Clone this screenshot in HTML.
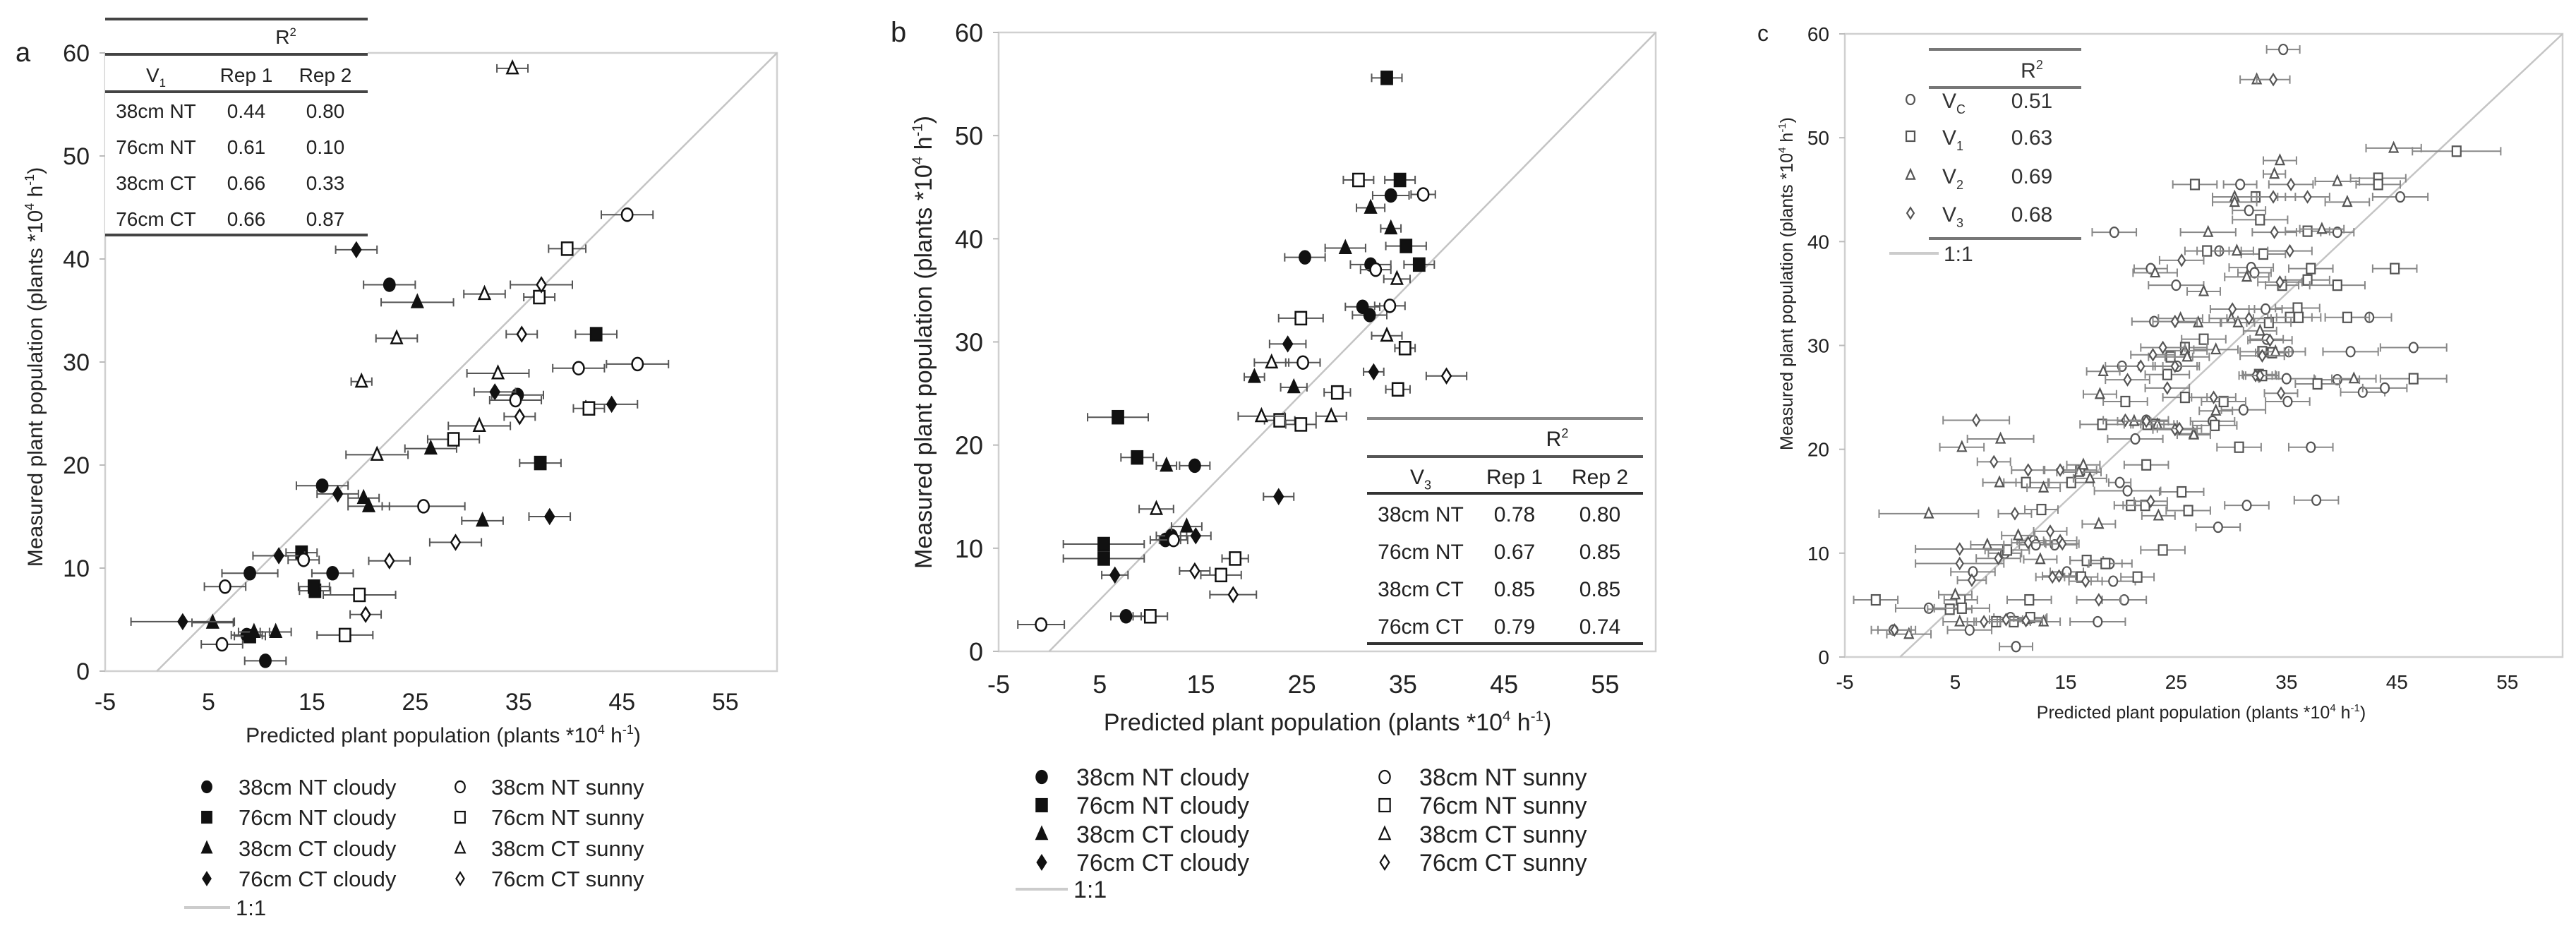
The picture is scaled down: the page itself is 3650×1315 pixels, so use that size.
<!DOCTYPE html>
<html><head><meta charset="utf-8"><style>
html,body{margin:0;padding:0;background:#fff}
svg{display:block;font-family:"Liberation Sans",Arial,sans-serif}
</style></head><body>
<svg id="fig" width="3650" height="1315" viewBox="0 0 3650 1315" xmlns="http://www.w3.org/2000/svg"></svg>
<script>
// ---- data: each point [predicted, measured, error] ----
const xTicks=[-5,5,15,25,35,45,55];
const yTicks=[0,10,20,30,40,50,60];
// Panel a (V1)
const a_nt38_cloudy=[[22.5,37.5,2.5],[16,18,2.5],[9,9.5,2.7],[17,9.5,2],[8.7,3.5,1.5],[10.5,1,2],[34.9,26.8,2.5]];
const a_nt76_cloudy=[[42.5,32.7,2],[37.1,20.2,2],[14,11.5,1.5],[15.3,7.8,1.5],[15.2,8.2,1.5],[9,3.4,1.5]];
const a_ct38_cloudy=[[25.2,35.8,3.5],[26.5,21.6,2.5],[20,16.8,1.5],[20.5,16,2],[31.5,14.6,2],[5.4,4.7,2],[9.4,3.8,1.5],[11.5,3.8,1.5]];
const a_ct76_cloudy=[[19.3,40.9,2],[32.7,27.1,2],[44,25.9,2.5],[17.5,17.2,2],[38,15,2],[11.8,11.2,2.5],[2.5,4.8,5]];
const a_nt38_sunny=[[45.5,44.3,2.5],[40.8,29.4,2.5],[46.5,29.8,3],[34.7,26.3,2.5],[25.8,16,4],[6.6,8.2,2],[6.3,2.6,2],[14.2,10.8,1.5]];
const a_nt76_sunny=[[39.7,41,1.8],[37,36.3,1.5],[41.8,25.5,1.5],[28.7,22.5,2.5],[19.6,7.4,3.5],[18.2,3.5,2.7]];
const a_ct38_sunny=[[34.4,58.5,1.5],[31.7,36.6,2],[23.2,32.3,2],[33,28.9,3],[19.8,28.1,1],[31.2,23.8,3],[21.3,21,3]];
const a_ct76_sunny=[[37.2,37.5,3],[35.3,32.7,1.5],[35.1,24.7,1.5],[28.9,12.5,2.5],[22.5,10.7,2],[20.2,5.5,1.5]];
// Panel b (V3)
const b_nt38_cloudy=[[33.8,44.2,1.8],[25.3,38.2,2],[31.8,37.5,2],[31,33.4,1.7],[31.7,32.6,1.7],[14.4,18,1.5],[11.5,10.8,1.5],[12.1,11.2,1.5],[7.6,3.4,1.5]];
const b_nt76_cloudy=[[33.4,55.6,1.5],[34.7,45.7,1.5],[35.3,39.3,2],[36.6,37.5,1.5],[6.8,22.7,3],[8.7,18.8,1.6],[5.4,10.4,4],[5.4,9,4]];
const b_ct38_cloudy=[[31.8,43,1.4],[33.8,41,1],[29.3,39.1,2],[20.3,26.6,1],[24.2,25.6,1.3],[11.6,18,1],[13.6,12.1,1.5]];
const b_ct76_cloudy=[[23.6,29.8,1.8],[32.1,27.1,1],[22.7,15,1.5],[14.5,11.2,1.5],[6.5,7.4,1.3]];
const b_nt38_sunny=[[37,44.3,1.2],[32.3,37,1.5],[33.7,33.5,1.5],[25.1,28,1.7],[12.3,10.8,1.4],[-0.8,2.6,2.3]];
const b_nt76_sunny=[[30.6,45.7,1.5],[24.9,32.3,2.2],[35.2,29.4,1],[28.5,25.1,1.3],[34.5,25.4,1.2],[22.8,22.4,1.5],[24.9,22,1.5],[18.4,9,1.3],[17,7.4,2],[10,3.4,1.7]];
const b_ct38_sunny=[[34.4,36.1,1.3],[33.4,30.6,1.5],[22,28,1.7],[21,22.8,2.3],[27.9,22.8,1.5],[10.6,13.8,1.7]];
const b_ct76_sunny=[[39.3,26.7,2],[14.4,7.8,1.5],[18.2,5.5,2.3]];
// Panel c (by growth stage)
const c_vc=[[34.7,58.5,1.5],[45.3,44.3,2.5],[19.4,40.9,2],[39.6,40.9,1.5],[22.7,37.4,1.5],[25,35.8,2.5],[42.5,32.7,2],[23,32.3,2],[33.1,33.5,1.5],[46.5,29.8,3],[40.8,29.4,2.5],[35.2,29.4,1.5],[20.1,28,1.5],[39.6,26.7,2],[35,26.8,2.5],[41.9,25.5,2],[43.9,25.9,2],[35.1,24.6,2],[31.1,23.8,2],[21.3,21,2.5],[37.2,20.2,2],[20.6,16,3],[31.4,14.6,2],[37.7,15.1,2],[28.8,12.5,2],[19.9,16.8,1],[14,10.8,2],[19,9,2],[16.9,9.3,1.5],[6.6,8.2,2],[19.3,7.3,2],[15.1,8.2,1.5],[20.3,5.5,2],[2.6,4.7,3],[6.3,2.6,2],[17.9,3.4,2.5],[10.5,1,1.5],[11.7,3.7,1.5],[10,3.8,1.5],[-0.6,2.6,2],[28.3,22.7,2],[12.1,11.2,1.5],[9.5,10,1.5],[22.3,22.8,2],[25.1,28,2],[31.8,37.5,2],[28.9,39.1,2],[30.8,45.5,1.5],[31.6,43,1.5],[32.1,37,1.5],[33.2,30.6,1.5],[12.3,10.8,1.5]];
const c_v1=[[50.4,48.7,4],[43.3,46.1,2.5],[43.3,45.5,2],[26.7,45.5,2],[32.2,44.3,2],[32.6,42.1,2.5],[36.9,41,2],[27.8,39.1,2],[32.9,38.8,2],[44.8,37.4,2],[37.2,37.4,2],[36.9,36.3,2],[39.6,35.8,2.5],[34.6,35.8,1.5],[36,33.6,2],[35.3,32.7,2],[36.1,32.7,2],[40.5,32.7,2],[33.4,32.2,2],[27.5,30.6,2],[25.8,29.8,2],[24.5,28.9,2],[32.8,29.4,2],[33.7,29.3,1.5],[24.2,27.2,2],[32.5,27.2,1.5],[32.8,27.1,1.5],[46.5,26.8,3],[37.8,26.3,2],[25.8,25,2],[29.3,24.6,2],[20.4,24.6,2],[28.5,22.3,2],[18.3,22.4,2],[23.1,22.4,2],[30.7,20.2,2],[22.3,18.5,2],[16.3,18,1.5],[11.4,16.8,2],[15.5,16.8,2],[25.5,15.9,2],[20.9,14.6,1.5],[22.2,14.6,2],[26.1,14.1,2],[12.8,14.2,1.5],[23.8,10.3,2],[9.7,10.3,2],[16.9,9.3,1.5],[18.6,9,1.5],[16.4,7.7,1.5],[21.5,7.7,1.5],[-2.2,5.5,2],[11.7,5.5,2],[5.5,5.5,1.5],[4.5,4.6,2],[5.6,4.7,2.5],[8.7,3.4,2],[10.3,3.4,1.5],[11.8,3.8,1.5],[22.4,22.4,1.5]];
const c_v2=[[32.3,55.6,1.5],[44.7,49,2.5],[34.4,47.8,1.5],[33.9,46.5,1],[39.6,45.8,2],[30.3,44.3,2],[30.3,43.8,2],[40.5,43.8,2],[38.2,41.2,2],[27.9,40.9,2.5],[30.5,39.1,1.5],[23.1,37,2],[27.5,35.2,1.5],[31.4,36.6,2],[25.4,32.6,2],[30,32.6,2],[30.6,32.2,1.5],[27,32.2,2],[32.6,31.4,1.5],[28.6,29.6,2],[25.8,29.5,2],[26,28.9,2],[34,29.4,1.5],[41.1,26.8,2],[18.4,27.5,1.5],[18.1,25.3,1.5],[28.6,23.7,1.5],[21.2,22.7,1.5],[26.6,21.5,1.5],[9.1,21,3],[5.6,20.2,2],[16.6,18.5,1.5],[9,16.8,1.5],[13,16.3,1.5],[2.6,13.8,4.5],[23.4,13.6,1.5],[18,12.8,1.5],[10.7,11.7,1.5],[7.9,10.8,1.5],[12.7,9.4,1.5],[5,6,1.5],[5.4,3.4,1.5],[13,3.4,1.5],[0.8,2.2,2],[16.2,17.8,2],[17.2,17.2,1.5],[26.6,21.4,1.5],[23.3,22.4,1.5]];
const c_v3=[[33.8,55.6,1.5],[35.4,45.5,2],[33.8,44.3,2],[36.9,44.3,2],[33.9,40.9,2],[35.3,39.1,2],[25.5,38.2,2],[34.4,36.1,2],[30.1,33.5,2],[31.6,32.6,2],[24.9,32.3,2],[33.5,30.5,2],[23.8,29.8,2],[24.9,28,2],[21.8,28,2],[32.8,29,2],[22.9,29.1,2],[20.6,26.7,2],[24.2,25.9,2],[28.4,25,2],[34.5,25.4,1.5],[24.9,21.9,2],[25.3,22,2],[32.2,27.1,1.5],[32.6,27.1,1.5],[6.9,22.8,3],[8.5,18.8,1.5],[11.6,18,1.5],[14.5,18,1.5],[22.7,15,1.5],[10.4,13.8,1.5],[13.6,12.1,1.5],[14.5,11.2,1.5],[11.6,11,1.5],[5.4,10.4,4],[5.4,9,4],[6.5,7.4,1.3],[14.4,7.8,1.5],[18,5.5,2],[16.8,7.3,1.5],[13.8,7.7,1.5],[7.6,3.4,1.5],[9.6,3.6,1.5],[11.4,3.5,1.5],[-0.5,2.6,1.5],[14.7,10.9,1.5],[20.4,22.8,2],[22.3,22.7,2],[8.9,9.5,2]];
const tableA=[["38cm NT","0.44","0.80"],["76cm NT","0.61","0.10"],["38cm CT","0.66","0.33"],["76cm CT","0.66","0.87"]];
const tableB=[["38cm NT","0.78","0.80"],["76cm NT","0.67","0.85"],["38cm CT","0.85","0.85"],["76cm CT","0.79","0.74"]];
const tableC=[["C","0.51"],["1","0.63"],["2","0.69"],["3","0.68"]];
const legendLabels=["38cm NT cloudy","76cm NT cloudy","38cm CT cloudy","76cm CT cloudy","38cm NT sunny","76cm NT sunny","38cm CT sunny","76cm CT sunny"];

const NS="http://www.w3.org/2000/svg";
const svg=document.getElementById('fig');
function mk(tag,attrs,parent,text){const e=document.createElementNS(NS,tag);for(const k in attrs)e.setAttribute(k,attrs[k]);if(text!==undefined)e.textContent=text;(parent||svg).appendChild(e);return e;}

function marker(g,shape,cx,cy,r,filled,stroke,sw){
  const fill=filled?stroke:'#fff';let e;
  if(shape==='circle')e=mk('ellipse',{cx:cx,cy:cy,rx:r*0.85,ry:r,fill:fill,stroke:stroke,'stroke-width':sw},g);
  else if(shape==='square')e=mk('rect',{x:cx-r*0.85,y:cy-r,width:r*1.7,height:r*2,fill:fill,stroke:stroke,'stroke-width':sw},g);
  else if(shape==='triangle')e=mk('polygon',{points:`${cx},${cy-r*1.1} ${cx+r*0.85},${cy+r*0.8} ${cx-r*0.85},${cy+r*0.8}`,fill:fill,stroke:stroke,'stroke-width':sw},g);
  else e=mk('polygon',{points:`${cx},${cy-r*1.1} ${cx+r*0.7},${cy} ${cx},${cy+r*1.1} ${cx-r*0.7},${cy}`,fill:fill,stroke:stroke,'stroke-width':sw},g);
  return e;
}

function panel(P){
  const g=mk('g',{});
  
  
  const X=v=>P.L+(v+5)/65*(P.R-P.L);
  const Y=v=>P.B-v/60*(P.B-P.T);
  const fr=mk('rect',{x:P.L,y:P.T,width:P.R-P.L,height:P.B-P.T,fill:'none',stroke:'#d0d0d0','stroke-width':2.5},g);
  
  const dl=mk('line',{x1:X(0),y1:Y(0),x2:X(60),y2:Y(60),stroke:'#c4c4c4','stroke-width':2.5},g);
  
  xTicks.forEach(t=>{const e=mk('text',{x:X(t),y:P.xtY,'font-size':P.tf,'text-anchor':'middle',fill:'#222'},g,String(t));
    });
  yTicks.forEach(t=>{mk('line',{x1:P.L-8,x2:P.L,y1:Y(t),y2:Y(t),stroke:'#bbb','stroke-width':2},g);
    const e=mk('text',{x:P.L-22,y:Y(t)+P.tf*0.36,'font-size':P.tf,'text-anchor':'end',fill:'#222'},g,String(t));
    });
  const pl=mk('text',{x:P.labX,y:P.T+P.tf*0.36,'font-size':P.tf+4,fill:'#222'},g,P.id);
  
  const xt=mk('text',{x:P.xtitleX,y:P.xtitleY,'font-size':P.af,'text-anchor':'middle',fill:'#222'},g);
  xt.innerHTML='Predicted plant population (plants *10<tspan font-size="'+(P.af*0.6)+'" dy="-'+(P.af*0.4)+'">4</tspan><tspan dy="'+(P.af*0.4)+'"> h</tspan><tspan font-size="'+(P.af*0.6)+'" dy="-'+(P.af*0.4)+'">-1</tspan><tspan dy="'+(P.af*0.4)+'">)</tspan>';
  
  const yt=mk('text',{x:0,y:0,'font-size':P.af,'text-anchor':'middle',fill:'#222',transform:`translate(${P.ytitleX},${P.ytitleY}) rotate(-90)`},g);
  yt.innerHTML='Measured plant population (plants *10<tspan font-size="'+(P.af*0.6)+'" dy="-'+(P.af*0.4)+'">4</tspan><tspan dy="'+(P.af*0.4)+'"> h</tspan><tspan font-size="'+(P.af*0.6)+'" dy="-'+(P.af*0.4)+'">-1</tspan><tspan dy="'+(P.af*0.4)+'">)</tspan>';
  
  P.series.forEach(s=>{
    const sg=mk('g',{},g);
    
    
    s.data.forEach(d=>{
      const cx=X(d[0]),cy=Y(d[1]),x1=X(d[0]-d[2]),x2=X(d[0]+d[2]);
      mk('line',{x1:x1,x2:x2,y1:cy,y2:cy,stroke:P.eb,'stroke-width':2},sg);
      mk('line',{x1:x1,x2:x1,y1:cy-6,y2:cy+6,stroke:P.eb,'stroke-width':2},sg);
      mk('line',{x1:x2,x2:x2,y1:cy-6,y2:cy+6,stroke:P.eb,'stroke-width':2},sg);
      const m=marker(sg,s.shape,cx,cy,P.mr,s.filled,P.ms,P.msw);
      
      
    });
  });
  return g;
}

const shapes=['circle','square','triangle','diamond'];
const pa=panel({id:'a',L:149,R:1101,T:75,B:951,tf:34,af:30,xtY:1006,labX:22,xtitleX:628,xtitleY:1052,ytitleX:60,ytitleY:520,mr:9,ms:'#111',msw:2.5,eb:'#555',
 series:[{name:'38nt-cloudy',data:a_nt38_cloudy,shape:'circle',filled:true},{name:'76nt-cloudy',data:a_nt76_cloudy,shape:'square',filled:true},{name:'38ct-cloudy',data:a_ct38_cloudy,shape:'triangle',filled:true},{name:'76ct-cloudy',data:a_ct76_cloudy,shape:'diamond',filled:true},
 {name:'38nt-sunny',data:a_nt38_sunny,shape:'circle',filled:false},{name:'76nt-sunny',data:a_nt76_sunny,shape:'square',filled:false},{name:'38ct-sunny',data:a_ct38_sunny,shape:'triangle',filled:false},{name:'76ct-sunny',data:a_ct76_sunny,shape:'diamond',filled:false}]});
const pb=panel({id:'b',L:1415,R:2346,T:46,B:923,tf:36,af:34,xtY:982,labX:1262,xtitleX:1881,xtitleY:1035,ytitleX:1320,ytitleY:485,mr:9,ms:'#111',msw:2.5,eb:'#555',
 series:[{name:'38nt-cloudy',data:b_nt38_cloudy,shape:'circle',filled:true},{name:'76nt-cloudy',data:b_nt76_cloudy,shape:'square',filled:true},{name:'38ct-cloudy',data:b_ct38_cloudy,shape:'triangle',filled:true},{name:'76ct-cloudy',data:b_ct76_cloudy,shape:'diamond',filled:true},
 {name:'38nt-sunny',data:b_nt38_sunny,shape:'circle',filled:false},{name:'76nt-sunny',data:b_nt76_sunny,shape:'square',filled:false},{name:'38ct-sunny',data:b_ct38_sunny,shape:'triangle',filled:false},{name:'76ct-sunny',data:b_ct76_sunny,shape:'diamond',filled:false}]});
const pc=panel({id:'c',L:2614,R:3631,T:48,B:931,tf:28,af:25,xtY:976,labX:2490,xtitleX:3119,xtitleY:1018,ytitleX:2540,ytitleY:402,mr:7,ms:'#555',msw:2.2,eb:'#888',
 series:[{name:'vc',data:c_vc,shape:'circle',filled:false},{name:'v1',data:c_v1,shape:'square',filled:false},{name:'v2',data:c_v2,shape:'triangle',filled:false},{name:'v3',data:c_v3,shape:'diamond',filled:false}]});

// tables
function table3(rows,T,stage,lines,hdrY,rowYs,cols,x1,x2,fs,lineColors,parent){
  const g=mk('g',{},parent);
  
  
  mk('rect',{x:x1,y:lines[0],width:x2-x1,height:lines[3]-lines[0],fill:'#fff'},g);
  lines.forEach((ly,i)=>mk('line',{x1:x1,x2:x2,y1:ly,y2:ly,stroke:lineColors[i],'stroke-width':4},g));
  const r=mk('text',{x:(cols[1]+cols[2])/2,y:T,'font-size':fs,'text-anchor':'middle',fill:'#222'},g);
  r.innerHTML='R<tspan font-size="'+fs*0.6+'" dy="-'+fs*0.4+'">2</tspan>';
  const v=mk('text',{x:cols[0],y:hdrY,'font-size':fs,'text-anchor':'middle',fill:'#222'},g);
  v.innerHTML='V<tspan font-size="'+fs*0.6+'" dy="'+fs*0.25+'">'+stage+'</tspan>';
  mk('text',{x:cols[1],y:hdrY,'font-size':fs,'text-anchor':'middle',fill:'#222'},g,'Rep 1');
  mk('text',{x:cols[2],y:hdrY,'font-size':fs,'text-anchor':'middle',fill:'#222'},g,'Rep 2');
  rows.forEach((row,i)=>row.forEach((c,j)=>mk('text',{x:cols[j],y:rowYs[i],'font-size':fs,'text-anchor':'middle',fill:'#222'},g,c)));
}
table3(tableA,62,'1',[27,77,130,333],116,[167,218,269,320],[221,349,461],149,521,28,['#444','#444','#444','#444'],pa);
table3(tableB,632,'3',[593,647,699,912],686,[739,792,845,898],[2013,2146,2267],1937,2328,30,['#888','#555','#333','#333'],pb);
(function(){
  const g=mk('g',{},pc);
  
  
  [70,124,338].forEach(ly=>mk('line',{x1:2733,x2:2949,y1:ly,y2:ly,stroke:'#777','stroke-width':4},g));
  const r=mk('text',{x:2879,y:110,'font-size':30,'text-anchor':'middle',fill:'#333'},g);
  r.innerHTML='R<tspan font-size="18" dy="-12">2</tspan>';
  const ys=[153,205,260,314];
  tableC.forEach((row,i)=>{
    marker(g,shapes[i],2707,ys[i]-12,7,false,'#555',2.2);
    const v=mk('text',{x:2752,y:ys[i],'font-size':30,fill:'#333'},g);
    v.innerHTML='V<tspan font-size="18" dy="8">'+row[0]+'</tspan>';
    mk('text',{x:2879,y:ys[i],'font-size':30,'text-anchor':'middle',fill:'#333'},g,row[1]);
  });
  mk('line',{x1:2677,x2:2747,y1:359,y2:359,stroke:'#ccc','stroke-width':4},g);
  mk('text',{x:2754,y:370,'font-size':30,fill:'#333'},g,'1:1');
})();

// legends
function legend(rowYs,mx1,tx1,mx2,tx2,lineX1,lineX2,fs,mr){
  const g=mk('g',{});
  
  
  legendLabels.forEach((lab,i)=>{
    const col=i<4?0:1,row=i%4;
    const e=mk('g',{},g);
    
    
    marker(e,shapes[row],col?mx2:mx1,rowYs[row],mr,col===0,'#111',2.2);
    mk('text',{x:col?tx2:tx1,y:rowYs[row]+fs*0.36,'font-size':fs,fill:'#222'},e,lab);
  });
  mk('line',{x1:lineX1,x2:lineX2,y1:rowYs[4],y2:rowYs[4],stroke:'#ccc','stroke-width':4},g);
  mk('text',{x:lineX2+8,y:rowYs[4]+fs*0.36,'font-size':fs,fill:'#222'},g,'1:1');
}
legend([1115,1158,1202,1245,1286],293,338,652,696,261,326,31,8);
legend([1101,1141,1182,1222,1260],1476,1525,1962,2011,1439,1513,34,9);
</script>
</body></html>
